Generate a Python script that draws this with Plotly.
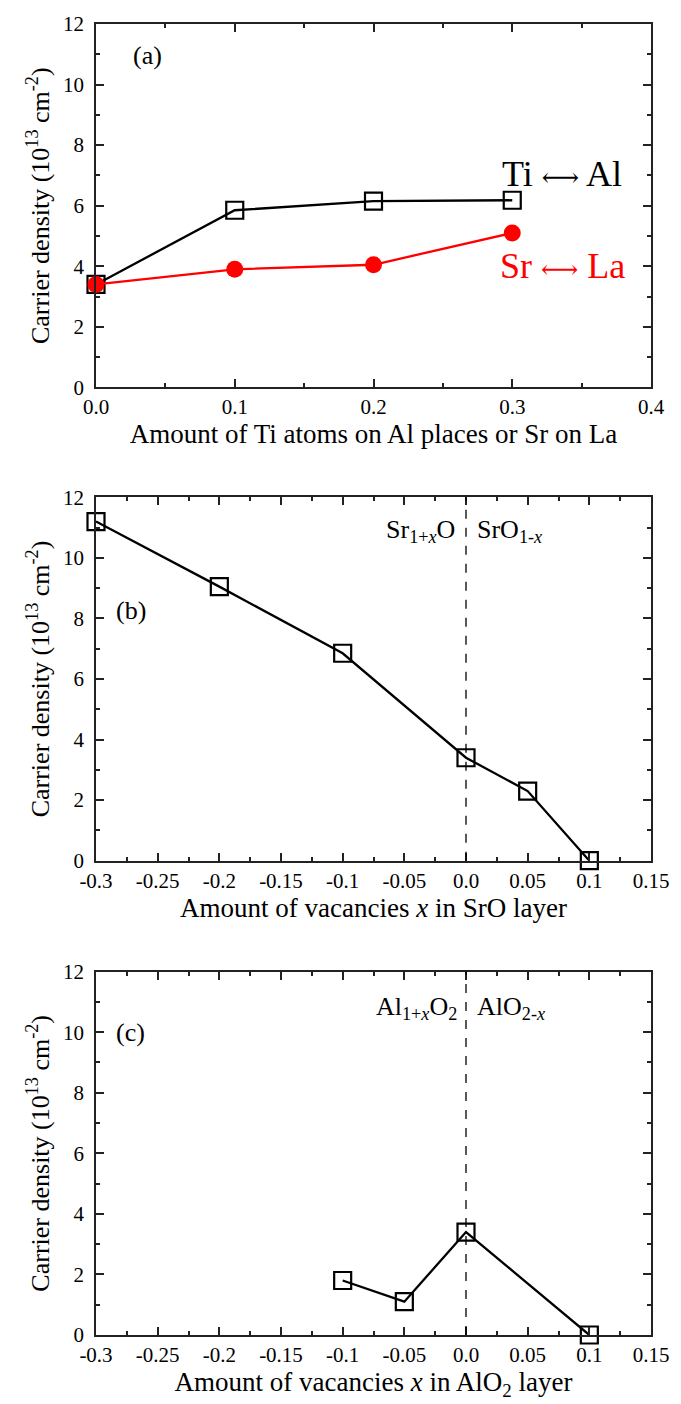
import plotly.graph_objects as go

# ---------------- data ----------------
# panel (a)
a_x = [0.0, 0.1, 0.2, 0.3]
a_ti_al = [3.4, 5.85, 6.15, 6.18]
a_sr_la = [3.4, 3.9, 4.05, 5.1]
a_xticks = [0.0, 0.1, 0.2, 0.3, 0.4]
a_xticktext = ["0.0", "0.1", "0.2", "0.3", "0.4"]

# panel (b)
b_x = [-0.3, -0.2, -0.1, 0.0, 0.05, 0.1]
b_y = [11.2, 9.05, 6.85, 3.4, 2.3, 0.0]

# panel (c)
c_x = [-0.1, -0.05, 0.0, 0.1]
c_y = [1.8, 1.1, 3.4, 0.0]

bc_xticks = [-0.3, -0.25, -0.2, -0.15, -0.1, -0.05, 0.0, 0.05, 0.1, 0.15]
bc_xticktext = ["-0.3", "-0.25", "-0.2", "-0.15", "-0.1", "-0.05", "0.0", "0.05", "0.1", "0.15"]

y_ticks = [0, 2, 4, 6, 8, 10, 12]
y_ticktext = ["0", "2", "4", "6", "8", "10", "12"]

# ---------------- styling ----------------
FONT = "Liberation Serif"
AX = "#222222"
W, H = 681, 1404
ML, MR, MT, MB = 96, 28, 15, 65
ph = H - MT - MB
def dom(top_px, bot_px):
    return [(H - MB - bot_px) / ph, (H - MB - top_px) / ph]

fig = go.Figure()

sq = dict(symbol="square-open", size=17, color="black", line=dict(width=2.2, color="black"))

fig.add_trace(go.Scatter(x=a_x, y=a_ti_al, mode="lines+markers", xaxis="x", yaxis="y", cliponaxis=False,
                         line=dict(color="black", width=2.3), marker=sq, showlegend=False))
fig.add_trace(go.Scatter(x=a_x, y=a_sr_la, mode="lines+markers", xaxis="x", yaxis="y", cliponaxis=False,
                         line=dict(color="#ff0000", width=2.3),
                         marker=dict(symbol="circle", size=17, color="#ff0000"), showlegend=False))
fig.add_trace(go.Scatter(x=b_x, y=b_y, mode="lines+markers", xaxis="x2", yaxis="y2", cliponaxis=False,
                         line=dict(color="black", width=2.3), marker=sq, showlegend=False))
fig.add_trace(go.Scatter(x=c_x, y=c_y, mode="lines+markers", xaxis="x3", yaxis="y3", cliponaxis=False,
                         line=dict(color="black", width=2.3), marker=sq, showlegend=False))

def xaxis(rng, tv, tt, minor_dt, title, anchor):
    return dict(range=rng, tickmode="array", tickvals=tv, ticktext=tt,
                ticks="inside", ticklen=8, tickwidth=1.5, tickcolor=AX,
                minor=dict(dtick=minor_dt, tick0=0, ticks="inside", ticklen=4, tickwidth=1.5, tickcolor=AX),
                mirror="allticks", showline=True, linecolor=AX, linewidth=1.8,
                showgrid=False, zeroline=False, anchor=anchor, domain=[0, 1],
                tickfont=dict(family=FONT, size=21, color="black"),
                title=dict(text=title, font=dict(family=FONT, size=27, color="black"), standoff=6))

def yaxis(d, anchor):
    return dict(range=[0, 12], tickmode="array", tickvals=y_ticks, ticktext=y_ticktext,
                ticks="inside", ticklen=8, tickwidth=1.5, tickcolor=AX,
                minor=dict(dtick=1, tick0=0, ticks="inside", ticklen=4, tickwidth=1.5, tickcolor=AX),
                mirror="allticks", showline=True, linecolor=AX, linewidth=1.8,
                showgrid=False, zeroline=False, anchor=anchor, domain=d,
                ticklabelstandoff=6,
                tickfont=dict(family=FONT, size=21, color="black"),
                title=dict(text="Carrier density (10<sup>13</sup> cm<sup>-2</sup>)",
                           font=dict(family=FONT, size=26, color="black"), standoff=6))

fig.update_layout(
    width=W, height=H, margin=dict(l=ML, r=MR, t=MT, b=MB),
    paper_bgcolor="white", plot_bgcolor="white",
    font=dict(family=FONT, size=21, color="black"),
    xaxis=xaxis([0, 0.4], a_xticks, a_xticktext, 0.05, "Amount of Ti atoms on Al places or Sr on La", "y"),
    yaxis=yaxis(dom(15, 382), "x"),
    xaxis2=xaxis([-0.3, 0.15], bc_xticks, bc_xticktext, 0.025, "Amount of vacancies <i>x</i> in SrO layer", "y2"),
    yaxis2=yaxis(dom(493, 860), "x2"),
    xaxis3=xaxis([-0.3, 0.15], bc_xticks, bc_xticktext, 0.025, "Amount of vacancies <i>x</i> in AlO<sub>2</sub> layer", "y3"),
    yaxis3=yaxis(dom(972, 1339), "x3"),
)

for xr, yr in [("x2", "y2"), ("x3", "y3")]:
    fig.add_shape(type="line", x0=0, x1=0, y0=0, y1=12, xref=xr, yref=yr,
                  line=dict(color="black", width=1.3, dash="dash"))

def ann(text, x, y, xr, yr, size=24, color="black", xanchor="center"):
    fig.add_annotation(text=text, x=x, y=y, xref=xr, yref=yr, showarrow=False,
                       xanchor=xanchor, yanchor="middle",
                       font=dict(family=FONT, size=size, color=color))

ARROW = '<span style="font-family:DejaVu Serif;font-size:26px">⟷</span>'
ann("(a)", 0.037, 10.95, "x", "y", size=26)
ann("Ti " + ARROW + " Al", 0.336, 7.05, "x", "y", size=36)
ann("Sr " + ARROW + " La", 0.336, 4.0, "x", "y", size=36, color="#ff0000")
ann("(b)", -0.272, 8.25, "x2", "y2", size=26)
ann("Sr<sub>1+<i>x</i></sub>O", -0.007, 10.9, "x2", "y2", size=26, xanchor="right")
ann("SrO<sub>1-<i>x</i></sub>", 0.007, 10.9, "x2", "y2", size=26, xanchor="left")
ann("(c)", -0.272, 10.0, "x3", "y3", size=26)
ann("Al<sub>1+<i>x</i></sub>O<sub>2</sub>", -0.006, 10.8, "x3", "y3", size=26, xanchor="right")
ann("AlO<sub>2-<i>x</i></sub>", 0.007, 10.8, "x3", "y3", size=26, xanchor="left")

fig.write_html("out.html")
